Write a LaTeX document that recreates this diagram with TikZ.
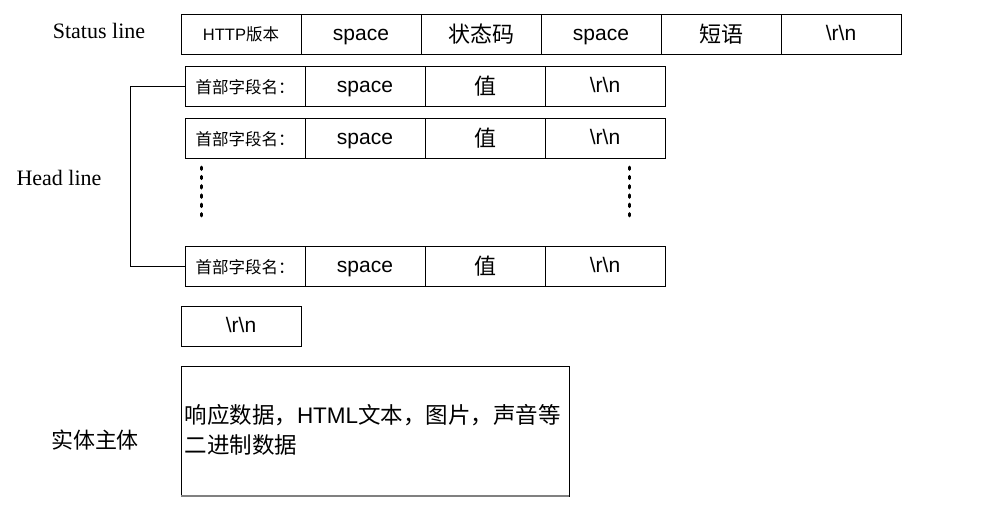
\documentclass[tikz,border=0pt]{standalone}
\usepackage{fontspec}
\setmainfont{Liberation Serif}
\setsansfont{Liberation Sans}
\newfontfamily\cjk{Noto Sans CJK SC}
\usetikzlibrary{positioning}
\newcommand{\zh}[1]{{\cjk #1}}
\newcommand{\zhcell}[1]{\raisebox{-2.5pt}{\cjk\fontsize{22}{24}\selectfont #1}}
\newcommand{\crlf}{\textbackslash r\textbackslash n}

\begin{document}
\begin{tikzpicture}[x=1pt,y=-1pt,line width=1pt,
  every node/.style={font=\sffamily\fontsize{21}{24}\selectfont},
  cell/.style={draw,minimum width=120pt,minimum height=40pt,inner sep=0pt,outer sep=0pt,
    text height=16pt,text depth=4pt},
  smalltxt/.style={font=\sffamily\fontsize{16.5}{18}\selectfont},
  side/.style={font=\rmfamily\fontsize{22}{25}\selectfont},
  dotline/.style={line width=3pt,line cap=round,dash pattern=on 2.4pt off 6.9pt}]
\useasboundingbox (0,0) rectangle (997,523);
% status line
\node[cell,anchor=north west,smalltxt] (st1) at (181,14) {HTTP\zh{版本}};
\node[cell,right=0pt of st1] (st2) {space};
\node[cell,right=0pt of st2] (st3) {\zhcell{状态码}};
\node[cell,right=0pt of st3] (st4) {space};
\node[cell,right=0pt of st4] (st5) {\zhcell{短语}};
\node[cell,right=0pt of st5] (st6) {\crlf};
% head lines
\node[cell,anchor=north west,smalltxt] (h1a) at (185,66) {\raisebox{-1.5pt}{\zh{首部字段名：}}};
\node[cell,right=0pt of h1a] (h1b) {space};
\node[cell,right=0pt of h1b] (h1c) {\zhcell{值}};
\node[cell,right=0pt of h1c] (h1d) {\crlf};
\node[cell,anchor=north west,smalltxt] (h2a) at (185,118) {\raisebox{-1.5pt}{\zh{首部字段名：}}};
\node[cell,right=0pt of h2a] (h2b) {space};
\node[cell,right=0pt of h2b] (h2c) {\zhcell{值}};
\node[cell,right=0pt of h2c] (h2d) {\crlf};
\node[cell,anchor=north west,smalltxt] (h3a) at (185,246) {\raisebox{-1.5pt}{\zh{首部字段名：}}};
\node[cell,right=0pt of h3a] (h3b) {space};
\node[cell,right=0pt of h3b] (h3c) {\zhcell{值}};
\node[cell,right=0pt of h3c] (h3d) {\crlf};
\coordinate (dl1) at (201,167);
\coordinate (dl2) at (201,221);
\coordinate (dr1) at (629,167);
\coordinate (dr2) at (629,221);
\draw[dotline] (dl1) -- (dl2);
\draw[dotline] (dr1) -- (dr2);
\draw (h1a.west) -- ++(-55,0) |- (h3a.west);
% empty line
\node[cell,anchor=north west] (blank) at (181,306) {\crlf};
% body
\node[draw,anchor=north west,minimum width=388pt,minimum height=130pt,inner sep=0pt,outer sep=0pt] (body) at (181,366) {};
\draw[gray,line width=2pt] (body.south west) -- (body.south east);
\node[anchor=west,align=left,inner sep=0pt,font=\sffamily\fontsize{22.5}{30}\selectfont] (bodytxt) at (184,430) {\zh{响应数据，}HTML\zh{文本，图片，声音等}\\\zh{二进制数据}};
% labels
\node[side] (stlabel) at (99,31) {Status line};
\node[side] (hdlabel) at (59,178) {Head line};
\node[font=\cjk\fontsize{22}{25}\selectfont] (bdlabel) at (95,440) {实体主体};
\end{tikzpicture}
\end{document}
